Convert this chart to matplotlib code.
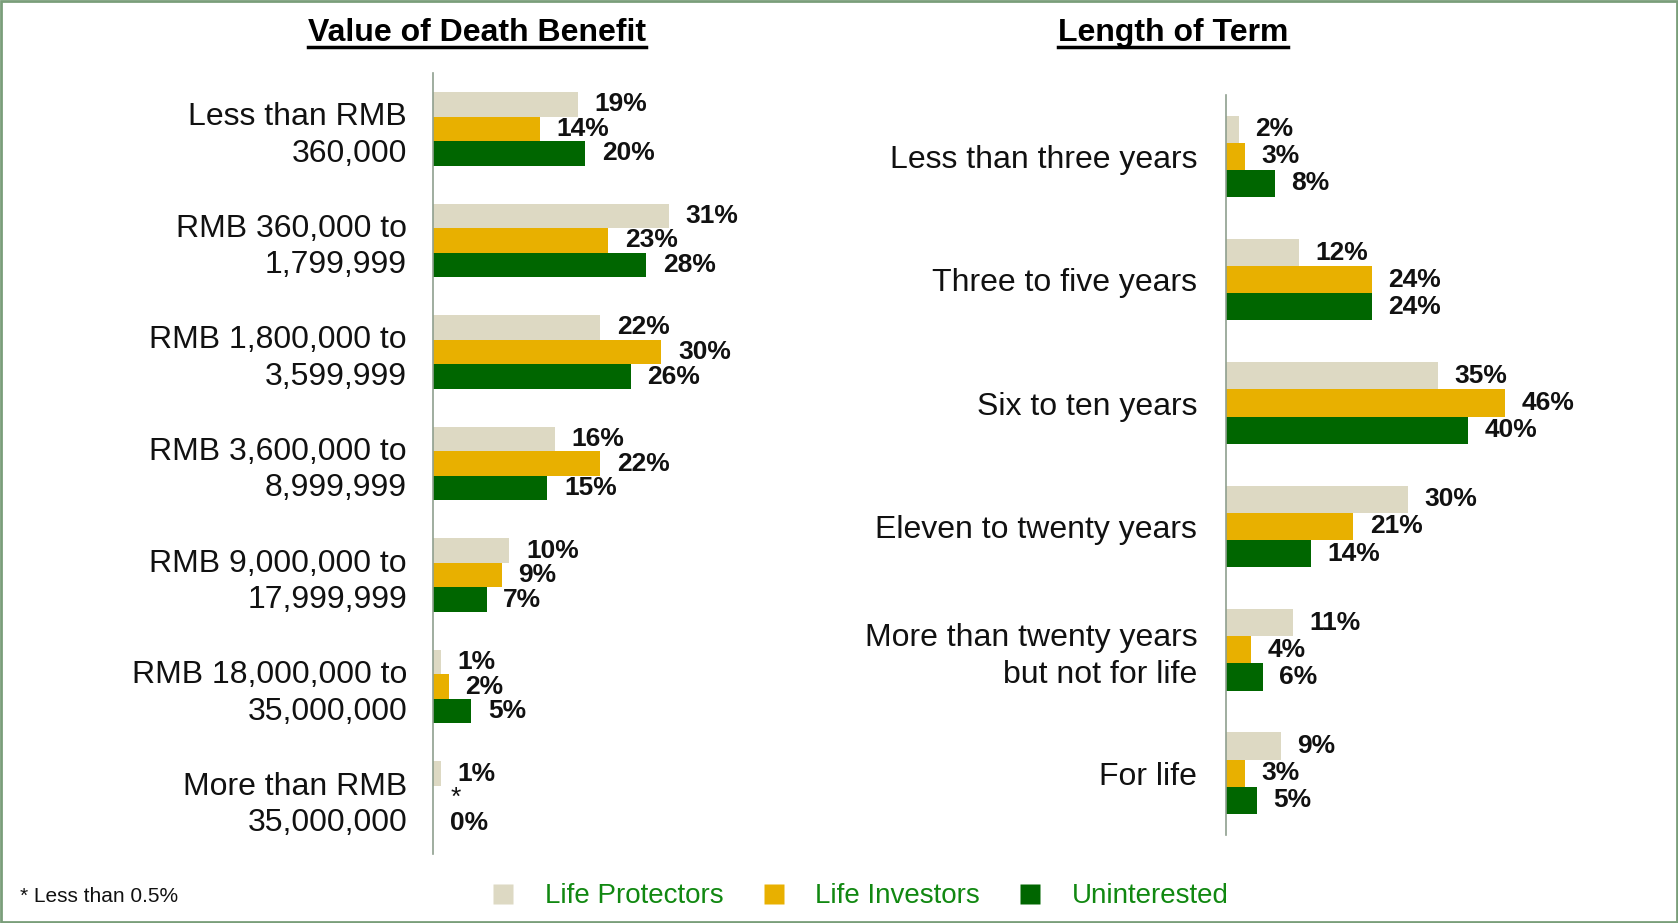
import matplotlib
matplotlib.use("Agg")
import matplotlib.pyplot as plt
from matplotlib.lines import Line2D
from matplotlib.patches import Rectangle
import numpy as np

plt.rcParams["font.family"] = ["Liberation Sans", "DejaVu Sans"]

# Value of Death Benefit
benefit_cats = ["Less than RMB\n360,000", "RMB 360,000 to\n1,799,999", "RMB 1,800,000 to\n3,599,999",
                "RMB 3,600,000 to\n8,999,999", "RMB 9,000,000 to\n17,999,999", "RMB 18,000,000 to\n35,000,000",
                "More than RMB\n35,000,000"]
benefit_lp = [19, 31, 22, 16, 10, 1, 1]
benefit_li = [14, 23, 30, 22, 9, 2, 0]
benefit_un = [20, 28, 26, 15, 7, 5, 0]
benefit_li_labels = ["14%", "23%", "30%", "22%", "9%", "2%", "*"]

# Length of Term
term_cats = ["Less than three years", "Three to five years", "Six to ten years",
             "Eleven to twenty years", "More than twenty years\nbut not for life", "For life"]
term_lp = [2, 12, 35, 30, 11, 9]
term_li = [3, 24, 46, 21, 4, 3]
term_un = [8, 24, 40, 14, 6, 5]

series_names = ["Life Protectors", "Life Investors", "Uninterested"]
colors = ["#DDD9C3", "#E8B000", "#006600"]

fig = plt.figure(figsize=(16.78, 9.23), dpi=100)


def draw_panel(ax, cats, values, labels, xmax, pad, title, title_x):
    y = np.arange(len(cats))
    h = 0.22
    for k, (vals, labs) in enumerate(zip(values, labels)):
        pos = y + (k - 1) * h
        ax.barh(pos, vals, height=h, color=colors[k], edgecolor="none")
        for p, v, lab in zip(pos, vals, labs):
            ax.annotate(lab, (v, p), xytext=(12, 0), textcoords="offset points",
                        ha="left", va="center", fontsize=19,
                        fontweight="normal" if lab == "*" else "bold", color="#111111")
    ax.set_xlim(0, xmax)
    ax.set_ylim(len(cats) - 0.5, -0.5)
    ax.set_yticks(y)
    ax.set_yticklabels(cats, fontsize=23, color="#111111", linespacing=1.28)
    ax.tick_params(axis="y", length=0, pad=pad)
    ax.set_xticks([])
    for s in ["top", "right", "bottom"]:
        ax.spines[s].set_visible(False)
    ax.spines["left"].set_color("#8f9f8f")
    ax.spines["left"].set_linewidth(1.2)
    t = fig.text(title_x, 0.964, title, ha="center", va="center", fontsize=23, fontweight="bold")
    return t


ax1 = fig.add_axes([0.2583, 0.0748, 0.181, 0.846])
t1 = draw_panel(ax1, benefit_cats, [benefit_lp, benefit_li, benefit_un],
                [[f"{v}%" for v in benefit_lp], benefit_li_labels, [f"{v}%" for v in benefit_un]],
                40, 19, "Value of Death Benefit", 0.284)

ax2 = fig.add_axes([0.7309, 0.0955, 0.2163, 0.802])
t2 = draw_panel(ax2, term_cats, [term_lp, term_li, term_un],
                [[f"{v}%" for v in term_lp], [f"{v}%" for v in term_li], [f"{v}%" for v in term_un]],
                60, 21, "Length of Term", 0.699)

# underline titles
fig.canvas.draw()
inv = fig.transFigure.inverted()
for t in (t1, t2):
    bb = t.get_window_extent().transformed(inv)
    fig.add_artist(Line2D([bb.x0, bb.x1], [bb.y0 + 0.001, bb.y0 + 0.001],
                          transform=fig.transFigure, color="black", linewidth=2.5))

# legend
handles = [Line2D([], [], marker="s", linestyle="none", markersize=15,
                  markerfacecolor=c, markeredgecolor="none") for c in colors]
fig.legend(handles, series_names, loc="center", bbox_to_anchor=(0.512, 0.029), ncol=3,
           frameon=False, fontsize=20, labelcolor="#118811", handletextpad=1.0,
           columnspacing=1.3, handlelength=1.0)

fig.text(0.012, 0.029, "* Less than 0.5%", ha="left", va="center", fontsize=15, color="#111111")

fig.add_artist(Rectangle((0.0005, 0.001), 0.999, 0.998, transform=fig.transFigure,
                         fill=False, edgecolor="#7a9e7a", linewidth=2))

fig.savefig("out.png", dpi=100)
